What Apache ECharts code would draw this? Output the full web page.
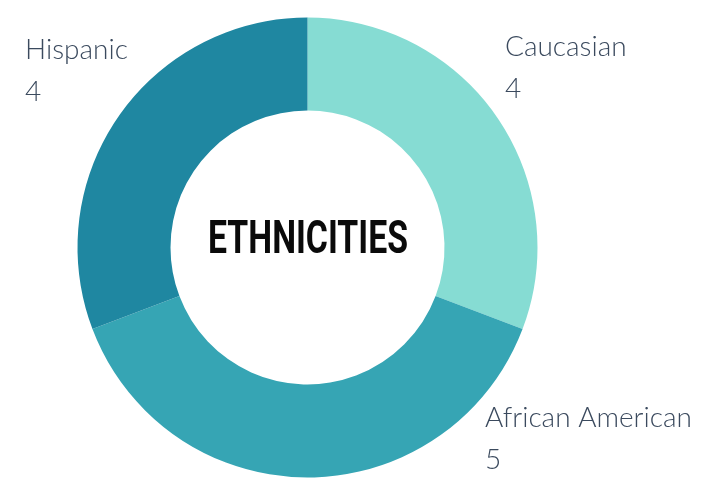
<!DOCTYPE html>
<html>
<head>
<meta charset="utf-8">
<script src="https://cdn.jsdelivr.net/npm/echarts@6/dist/echarts.min.js"></script>
<style>html,body{margin:0;padding:0;background:#fff}#c{width:702px;height:487px}</style>
</head>
<body>
<div id="c"></div>
<script>
const categories = ['Caucasian', 'African American', 'Hispanic'];
const values = [4, 5, 4];
const colors = ['#86dcd3', '#36a5b4', '#1f87a1'];
const centerTitle = 'ETHNICITIES';

const labelPos = [
  { x: 505, y: 68 },
  { x: 485, y: 439 },
  { x: 25, y: 71 }
];

const titleFont = 'bold 47px Roboto';
const mc = document.createElement('canvas').getContext('2d');
mc.font = titleFont;
const titleW = mc.measureText(centerTitle).width;
const titleScale = 200 / titleW;

const chart = echarts.init(document.getElementById('c'), null, { renderer: 'canvas' });
chart.setOption({
  backgroundColor: '#ffffff',
  animation: false,
  graphic: [{
    type: 'text',
    x: 308,
    y: 241,
    scaleX: titleScale,
    style: {
      text: centerTitle,
      align: 'center',
      verticalAlign: 'middle',
      font: titleFont,
      fill: '#0a0a0a'
    }
  }],
  series: [{
    type: 'pie',
    center: [307.5, 247.5],
    radius: [137, 230],
    startAngle: 90,
    clockwise: true,
    avoidLabelOverlap: false,
    data: categories.map((c, i) => ({ name: c, value: values[i], itemStyle: { color: colors[i] } })),
    label: {
      show: true,
      position: 'outside',
      formatter: '{b}\n{c}',
      fontFamily: 'Lato',
      fontWeight: 300,
      fontSize: 28,
      lineHeight: 42,
      color: '#3b4a5e'
    },
    labelLine: { show: false },
    labelLayout: function (p) {
      const lp = labelPos[p.dataIndex];
      return { x: lp.x, y: lp.y, align: 'left', verticalAlign: 'middle', hideOverlap: false };
    },
    emphasis: { disabled: true }
  }]
});
</script>
</body>
</html>
